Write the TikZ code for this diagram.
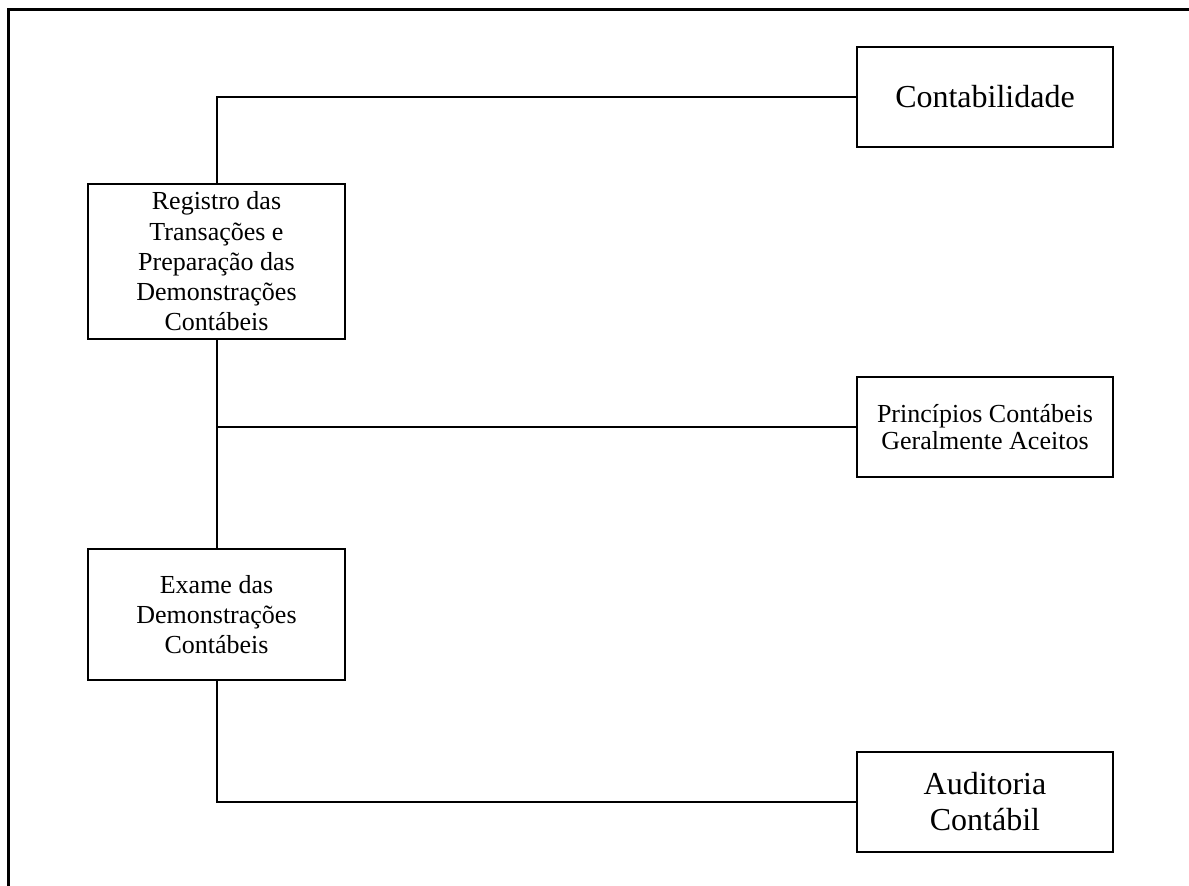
\documentclass[tikz,border=0pt]{standalone}
\usepackage{fontspec}
\setmainfont{Liberation Serif}
\begin{document}
\begin{tikzpicture}[x=1pt,y=-1pt,
  box/.style={draw, line width=2pt, inner sep=0pt, align=center, anchor=center},
  link/.style={line width=2pt},
  frame/.style={line width=3pt}]
\useasboundingbox (0,0) rectangle (1189,886);
\draw[frame] (8,886) -- (8,9) -- (1189,9);
\node[box, minimum width=256pt, minimum height=100pt, font=\fontsize{32}{36}\selectfont] (cont) at (985,97) {Contabilidade};
\node[box, minimum width=257pt, minimum height=155pt, font=\fontsize{26}{30.3}\selectfont] (reg) at (216.5,261.5) {Registro das\\Transações e\\Preparação das\\Demonstrações\\Contábeis};
\node[box, minimum width=256pt, minimum height=100pt, font=\fontsize{26}{27.5}\selectfont] (prin) at (985,427) {Princípios Contábeis\\Geralmente Aceitos};
\node[box, minimum width=257pt, minimum height=131pt, font=\fontsize{26}{30.3}\selectfont] (exame) at (216.5,614.5) {Exame das\\Demonstrações\\Contábeis};
\node[box, minimum width=256pt, minimum height=100pt, font=\fontsize{32}{36}\selectfont] (aud) at (985,802) {Auditoria\\Contábil};
\coordinate (j1) at (reg.south |- prin.west);
\draw[link] (reg.north) |- (cont.west);
\draw[link] (reg.south) -- (exame.north);
\draw[link] (j1) -- (prin.west);
\draw[link] (exame.south) |- (aud.west);
\end{tikzpicture}
\end{document}
